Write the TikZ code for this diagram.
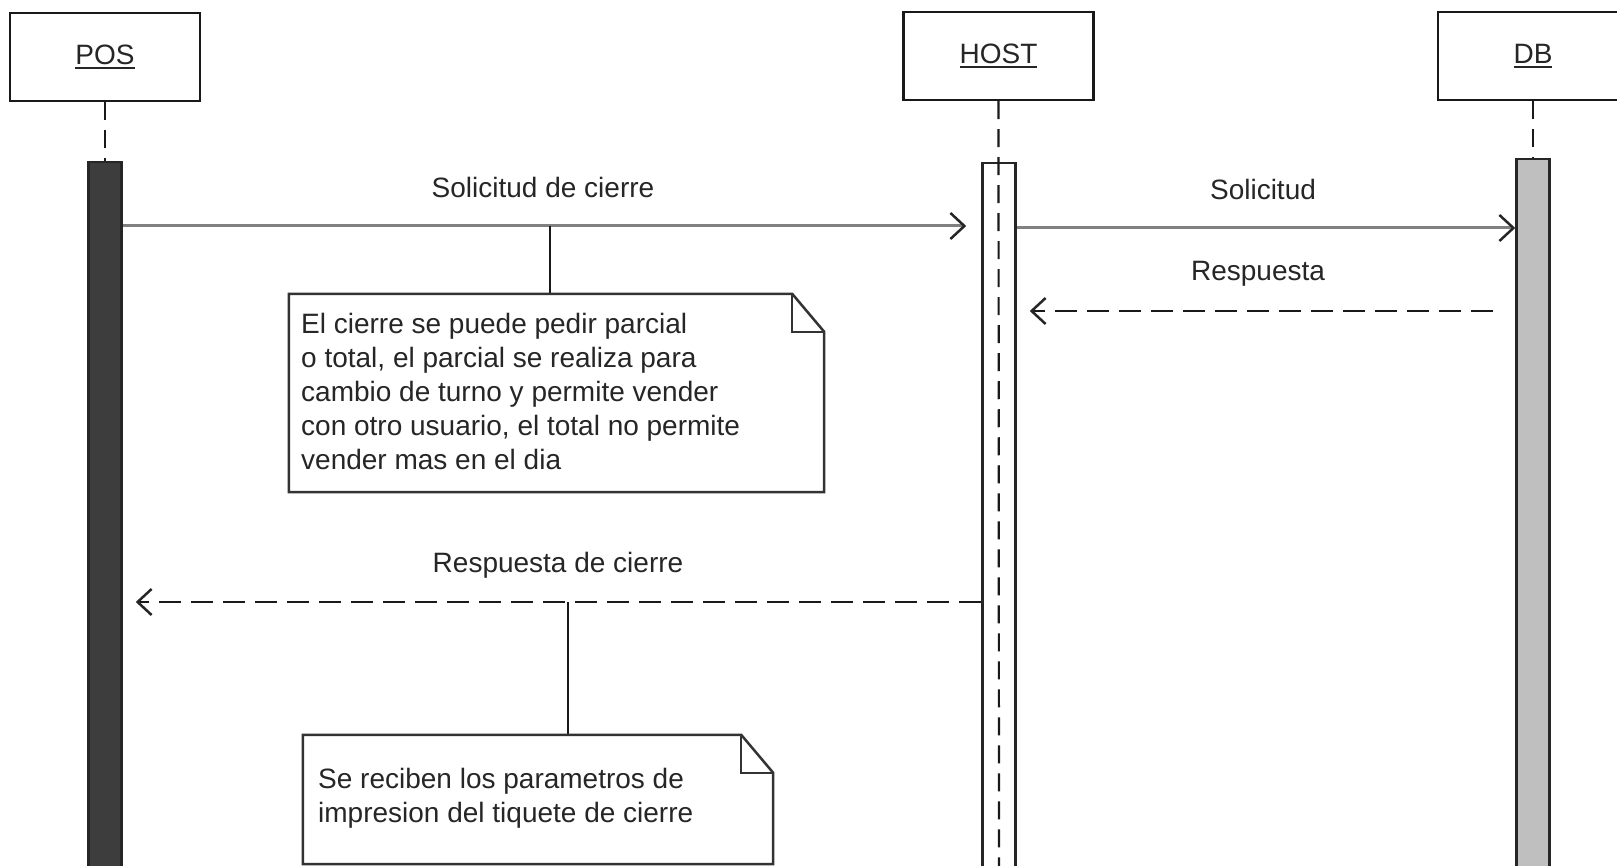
\documentclass[tikz,border=0pt]{standalone}
\usepackage{fontspec}
\setmainfont{Liberation Sans}
\newsavebox{\myulbox}
\newcommand{\myul}[1]{\sbox{\myulbox}{#1}\rlap{\usebox{\myulbox}}\rule[-5pt]{\wd\myulbox}{2.5pt}}
\usetikzlibrary{arrows.meta}
\begin{document}
\begin{tikzpicture}[x=1pt,y=-1pt,
  lbl/.style={font=\fontsize{28}{34}\selectfont, text=black!85, inner sep=0pt},
  actor/.style={draw=black!90, line width=2.5pt, fill=white, minimum width=190pt, minimum height=88pt, inner sep=0pt, lbl},
  bar/.style={draw=black!85, line width=2.5pt, minimum width=33pt, inner sep=0pt},
  lifeline/.style={draw=black!90, line width=2.2pt, dash pattern=on 18pt off 10pt},
  msg/.style={draw=black!50, line width=3pt, -{Straight Barb[length=14pt,width=26pt,line width=2.5pt,color=black!85]}},
  ret/.style={msg, draw=black!90, line width=2.2pt, dash pattern=on 22pt off 10pt},
  notebg/.style={inner sep=0pt},
  notebox/.style={line width=2.5pt, draw=black!80, fill=white},
  notetext/.style={lbl, align=left, anchor=west},
  conn/.style={draw=black!90, line width=2.5pt}]
\useasboundingbox (0,0) rectangle (1617,866);
\clip (0,0) rectangle (1617,866);
\fill[white] (0,0) rectangle (1617,866);

% actors
\node[actor] (pos)  at (105,57)   {\myul{POS}};
\node[actor] (host) at (998.5,56) {\myul{HOST}};
\node[actor] (db)   at (1533,56)  {\myul{DB}};

% activation bars
\node[bar, fill=black!76, minimum height=718pt] (posbar)  at (105,521) {};
\node[bar, fill=white,    minimum height=717pt] (hostbar) at (999,521.5) {};
\node[bar, fill=black!25, minimum height=721pt] (dbbar)   at (1533,519.5) {};
\coordinate (hostend) at (999,880);

% lifelines
\draw[lifeline] (pos.south) -- (posbar.north);
\draw[lifeline] (host.south) -- (hostend);
\draw[lifeline] (db.south) -- (dbbar.north);

% message rows
\coordinate (y1) at (0,226);
\coordinate (y2) at (0,228);
\coordinate (y3) at (0,311);
\coordinate (y4) at (0,602);

\draw[msg] (posbar.east |- y1) -- ([xshift=-15pt]hostbar.west |- y1);
\node[lbl] (l1) at (543,187) {Solicitud de cierre};

\draw[msg] (hostbar.east |- y2) -- (dbbar.west |- y2);
\node[lbl] (l2) at (1263,189) {Solicitud};

\draw[ret] ([xshift=-22pt]dbbar.west |- y3) -- ([xshift=13pt]hostbar.east |- y3);
\node[lbl] (l3) at (1258,274) {Respuesta};

\draw[ret] (hostbar.west |- y4) -- ([xshift=13pt]posbar.east |- y4);
\node[lbl] (l4) at (558,565) {Respuesta de cierre};

% note 1
\node[notebg, minimum width=535pt, minimum height=198pt] (n1) at (556.5,393) {};
\coordinate (c1) at (550,226);
\draw[conn] (c1) -- (c1 |- n1.north);
\draw[notebox] (n1.north west) -- ([xshift=-32pt]n1.north east) -- ([yshift=-38pt]n1.north east) -- (n1.south east) -- (n1.south west) -- cycle;
\draw[notebox, fill=none] ([xshift=-32pt]n1.north east) |- ([yshift=-38pt]n1.north east);
\node[notetext] (t1) at (301,391) {El cierre se puede pedir parcial\\o total, el parcial se realiza para\\cambio de turno y permite vender\\con otro usuario, el total no permite\\vender mas en el dia};

% note 2
\node[notebg, minimum width=470pt, minimum height=129pt] (n2) at (538,799.5) {};
\coordinate (c2) at (568,602);
\draw[conn] (c2) -- (c2 |- n2.north);
\draw[notebox] (n2.north west) -- ([xshift=-32pt]n2.north east) -- ([yshift=-38pt]n2.north east) -- (n2.south east) -- (n2.south west) -- cycle;
\draw[notebox, fill=none] ([xshift=-32pt]n2.north east) |- ([yshift=-38pt]n2.north east);
\node[notetext] (t2) at (318,798.5) {Se reciben los parametros de\\impresion del tiquete de cierre};
\end{tikzpicture}
\end{document}
